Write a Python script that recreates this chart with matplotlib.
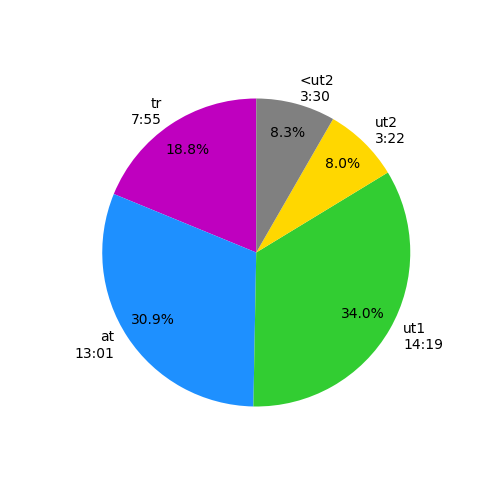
import matplotlib
matplotlib.use("Agg")
import matplotlib.pyplot as plt

# split times per zone (seconds)
zones = ["tr", "at", "ut1", "ut2", "<ut2"]
seconds = [475, 781, 859, 202, 210]
colors = ["m", "dodgerblue", "limegreen", "gold", "gray"]


def fmt_time(s):
    return f"{s // 60}:{s % 60:02d}"


labels = [f"{z}\n{fmt_time(s)}" for z, s in zip(zones, seconds)]

fig, ax = plt.subplots(figsize=(5, 5), dpi=100)
ax.pie(seconds, labels=labels, colors=colors, autopct="%1.1f%%",
       pctdistance=0.8, startangle=90, counterclock=True)
ax.set_aspect("equal")

fig.savefig("out.png", dpi=100)
plt.close(fig)
